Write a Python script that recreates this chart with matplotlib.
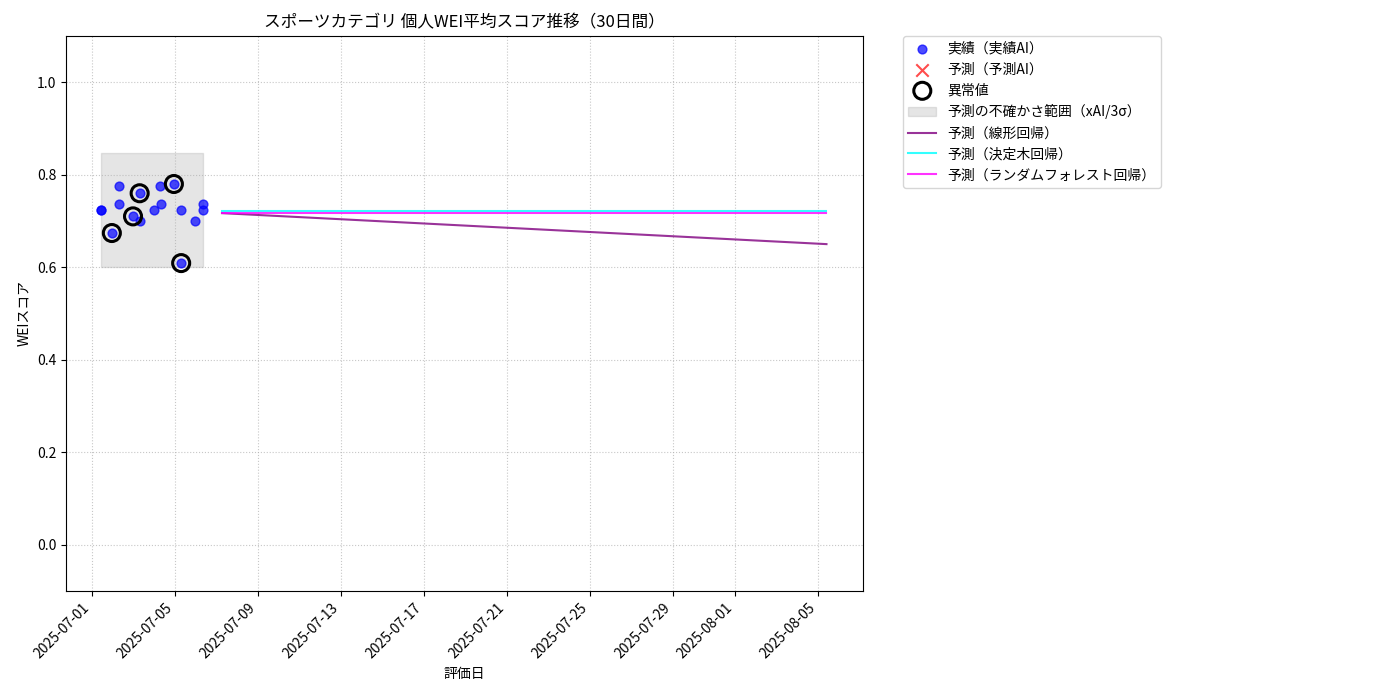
import numpy as np
import matplotlib.pyplot as plt
import matplotlib.dates as mdates
from datetime import datetime, timedelta

plt.rcParams["font.family"] = ["Noto Sans CJK JP", "DejaVu Sans"]

base = datetime(2025, 7, 1)
# actual scores (days offset from 2025-07-01, score)
act_days = [0.43, 0.43, 1.3, 1.3, 0.96, 1.98, 2.3, 2.3, 3.0, 3.3, 3.35, 3.95, 4.3, 4.3, 4.96, 5.35, 5.35]
act_vals = [0.724, 0.724, 0.776, 0.737, 0.674, 0.71, 0.76, 0.70, 0.724, 0.776, 0.737, 0.78, 0.724, 0.609, 0.70, 0.737, 0.724]
out_days = [0.96, 1.98, 2.3, 3.95, 4.3]
out_vals = [0.674, 0.71, 0.76, 0.78, 0.609]
band_days = [0.43, 5.35]
band_lo, band_hi = 0.60, 0.848
pred_days = [6.27, 35.4]
pred_linear = [0.717, 0.65]
pred_tree = [0.722, 0.722]
pred_rf = [0.718, 0.718]
tick_days = [0, 4, 8, 12, 16, 20, 24, 28, 31, 35]

to_dt = lambda ds: [base + timedelta(days=d) for d in ds]

fig = plt.figure(figsize=(14, 7), dpi=100)
ax = fig.add_axes([66/1400, 1-591/700, 797/1400, 555/700])

ax.scatter(to_dt(act_days), act_vals, color="blue", alpha=0.7, s=40, label="実績（実績AI）", zorder=3)
ax.scatter([], [], color="red", marker="x", s=80, alpha=0.7, label="予測（予測AI）")
ax.scatter(to_dt(out_days), out_vals, facecolors="none", edgecolors="black", s=150, linewidths=2.2, label="異常値", zorder=4)
ax.fill_between(to_dt(band_days), band_lo, band_hi, color="gray", alpha=0.2, label="予測の不確かさ範囲（xAI/3σ）")
ax.plot(to_dt(pred_days), pred_linear, color="purple", alpha=0.8, lw=1.5, label="予測（線形回帰）")
ax.plot(to_dt(pred_days), pred_tree, color="cyan", alpha=0.8, lw=1.5, label="予測（決定木回帰）")
ax.plot(to_dt(pred_days), pred_rf, color="magenta", alpha=0.8, lw=1.5, label="予測（ランダムフォレスト回帰）")

ax.set_ylim(-0.1, 1.1)
ax.set_xlim(base + timedelta(days=-1.25), base + timedelta(days=37.16))
ax.set_xticks(to_dt(tick_days))
ax.xaxis.set_major_formatter(mdates.DateFormatter("%Y-%m-%d"))
plt.setp(ax.get_xticklabels(), rotation=45, ha="right")
ax.grid(True, linestyle=":", alpha=0.7)
ax.set_title("スポーツカテゴリ 個人WEI平均スコア推移（30日間）")
ax.set_xlabel("評価日")
ax.set_ylabel("WEIスコア")
ax.legend(loc="upper left", bbox_to_anchor=(1.05, 1.0), borderaxespad=0)
fig.savefig("out.png", dpi=100)
